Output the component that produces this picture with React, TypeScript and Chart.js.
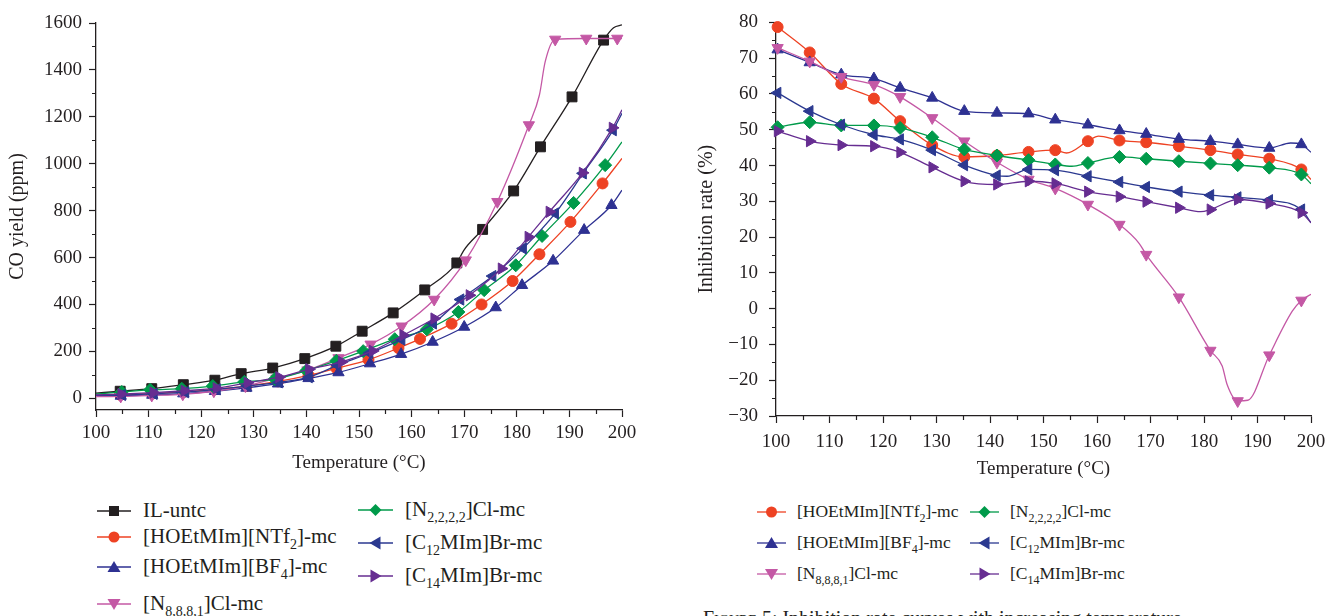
import React, { useEffect, useRef } from "react";
import { Chart, registerables } from "chart.js";

Chart.register(...registerables);

const FONT = "'Liberation Serif', 'Times New Roman', serif";
const INK = "#231f20";

// ---- tick labels ----
const TEMP_TICKS = [100, 110, 120, 130, 140, 150, 160, 170, 180, 190, 200];
const CO_TICKS = [0, 200, 400, 600, 800, 1000, 1200, 1400, 1600];
const INH_TICKS = [-30, -20, -10, 0, 10, 20, 30, 40, 50, 60, 70, 80];

// ---- series names ----
const NAME_UNTC = "IL-untc";
const NAME_NTF2 = "[HOEtMIm][NTf_{2}]-mc";
const NAME_BF4 = "[HOEtMIm][BF_{4}]-mc";
const NAME_N8881 = "[N_{8,8,8,1}]Cl-mc";
const NAME_N2222 = "[N_{2,2,2,2}]Cl-mc";
const NAME_C12 = "[C_{12}MIm]Br-mc";
const NAME_C14 = "[C_{14}MIm]Br-mc";

// ---- left chart: CO yield (ppm) ----
const coUntcT = [104.6, 110.6, 116.6, 122.6, 127.6, 133.6, 139.7, 145.6, 150.6, 156.5, 162.5, 168.6, 173.5, 179.4, 184.5, 190.5, 196.5];
const coUntcV = [30, 41, 58, 77, 105, 129, 169, 222, 286, 364, 462, 577, 720, 884, 1072, 1285, 1527];
const coUntcKnotT = [100, 169.9, 198.4, 200];
const coUntcKnotV = [22, 630, 1580, 1592];

const coNtf2T = [104.6, 110.6, 116.6, 122.6, 128.6, 134.6, 140.4, 145.7, 151.8, 157.5, 161.6, 167.6, 173.3, 179.2, 184.3, 190.2, 196.3];
const coNtf2V = [15, 20, 27, 38, 52, 72, 98, 128, 164, 214, 253, 318, 400, 500, 614, 752, 916];
const coNtf2KnotT = [100, 200];
const coNtf2KnotV = [12, 1023];

const coBf4T = [104.7, 110.7, 116.6, 122.6, 128.6, 134.6, 140.4, 146.1, 152.1, 158, 164, 170, 176, 181, 186.9, 192.8, 198];
const coBf4V = [10, 14, 20, 30, 44, 62, 85, 110, 148, 188, 240, 304, 387, 482, 586, 717, 823];
const coBf4KnotT = [100, 200];
const coBf4KnotV = [8, 887];

const coN8881T = [104.7, 110.6, 116.5, 122.4, 128.4, 134.3, 140.2, 146.1, 152.2, 158.1, 164.3, 170.3, 176.3, 182.3, 187.3, 193.2, 199.1];
const coN8881V = [8, 12, 17, 30, 52, 85, 120, 172, 230, 307, 421, 589, 838, 1165, 1530, 1534, 1534];
const coN8881KnotT = [100, 184.3, 185.4, 200];
const coN8881KnotV = [7, 1293, 1435, 1534];

const coN2222T = [104.9, 110.3, 116.3, 122.2, 128.2, 134, 140, 145.7, 150.8, 156.8, 162.9, 168.9, 173.8, 179.8, 184.8, 190.8, 196.8];
const coN2222V = [27, 36, 41, 52, 70, 82, 118, 160, 201, 252, 294, 368, 461, 567, 692, 833, 994];
const coN2222KnotT = [100, 200];
const coN2222KnotV = [18, 1093];

const coC12T = [105, 111, 117, 123, 128.8, 134.8, 140.5, 145.9, 152, 158.1, 164.1, 169.3, 175.4, 181.2, 187.3, 192.6, 198.3];
const coC12V = [14, 19, 26, 38, 52, 68, 90, 140, 193, 250, 319, 421, 521, 639, 788, 959, 1143];
const coC12KnotT = [100, 200];
const coC12KnotV = [12, 1215];

const coC14T = [104.8, 110.9, 116.8, 122.9, 128.8, 134.8, 140.5, 146.7, 152.6, 158.4, 164.3, 171, 177.1, 182.2, 186.2, 192.5, 198.2];
const coC14V = [18, 24, 32, 43, 66, 90, 124, 155, 202, 269, 340, 439, 553, 688, 795, 961, 1153];
const coC14KnotT = [100, 200];
const coC14KnotV = [14, 1230];

// ---- right chart: inhibition rate (%) ----
const inhT = [100.3, 106.3, 112.2, 118.3, 123.2, 129.2, 135.2, 141.3, 147.2, 152.2, 158.3, 164.2, 169.2, 175.3, 181.2, 186.3, 192.2, 198.2];

const inhNtf2V = [78.7, 71.6, 62.8, 58.7, 52.4, 45.7, 42.4, 42.8, 43.8, 44.3, 46.8, 47, 46.5, 45.4, 44.3, 43.1, 41.9, 38.9];
const inhNtf2KnotT = [154.3, 160.3, 200];
const inhNtf2KnotV = [43.5, 48.2, 36.1];

const inhBf4V = [72.4, 68.8, 65.4, 64.3, 61.7, 58.9, 55.2, 54.7, 54.5, 52.8, 51.4, 49.8, 48.8, 47.4, 46.8, 45.9, 44.9, 45.9];
const inhBf4KnotT = [196.2, 200];
const inhBf4KnotV = [46.3, 43.7];

const inhN8881V = [72.9, 69.1, 64.8, 62.6, 59.2, 53.3, 46.8, 40.9, 36.1, 33.6, 29.1, 23.5, 15.1, 3.2, -11.7, -25.8, -13, 2.3];
const inhN8881KnotT = [167.9, 183.4, 184.3, 188.2, 196.5, 200];
const inhN8881KnotV = [18.2, -16, -21.1, -25.6, -0.7, 4];

const inhN2222V = [50.7, 52.1, 51.2, 51.2, 50.5, 47.9, 44.5, 42.8, 41.5, 40.3, 40.7, 42.4, 41.9, 41.2, 40.6, 40.1, 39.4, 37.5];
const inhN2222KnotT = [155.3, 200];
const inhN2222KnotV = [39.8, 34.9];

const inhC12V = [60.3, 55.2, 51.4, 48.6, 47.3, 44.3, 40.1, 37.2, 38.9, 38.7, 37, 35.4, 34, 32.7, 31.7, 31.1, 30.3, 27.7];
const inhC12KnotT = [143.2, 200];
const inhC12KnotV = [37, 24];

const inhC14V = [49.6, 46.8, 45.7, 45.4, 43.7, 39.5, 35.6, 34.7, 35.6, 35, 32.7, 31.3, 29.9, 28.2, 27.7, 30.5, 29.4, 26.8];
const inhC14KnotT = [179.4, 200];
const inhC14KnotV = [27.1, 24];

// ---- styles ----
const COLORS = {
  untc: "#231f20",
  ntf2: "#ee4223",
  bf4: "#2e3192",
  n8881: "#c458a5",
  n2222: "#009a4a",
  c12: "#2b3990",
  c14: "#662d91",
};

type Shape = "rect" | "circle" | "up" | "down" | "left" | "right" | "diamond";

interface Series {
  name: string;
  color: string;
  shape: Shape;
  mT: number[];
  mV: number[];
  kT: number[];
  kV: number[];
}

const leftSeries: Series[] = [
  { name: NAME_UNTC, color: COLORS.untc, shape: "rect", mT: coUntcT, mV: coUntcV, kT: coUntcKnotT, kV: coUntcKnotV },
  { name: NAME_NTF2, color: COLORS.ntf2, shape: "circle", mT: coNtf2T, mV: coNtf2V, kT: coNtf2KnotT, kV: coNtf2KnotV },
  { name: NAME_BF4, color: COLORS.bf4, shape: "up", mT: coBf4T, mV: coBf4V, kT: coBf4KnotT, kV: coBf4KnotV },
  { name: NAME_N8881, color: COLORS.n8881, shape: "down", mT: coN8881T, mV: coN8881V, kT: coN8881KnotT, kV: coN8881KnotV },
  { name: NAME_N2222, color: COLORS.n2222, shape: "diamond", mT: coN2222T, mV: coN2222V, kT: coN2222KnotT, kV: coN2222KnotV },
  { name: NAME_C12, color: COLORS.c12, shape: "left", mT: coC12T, mV: coC12V, kT: coC12KnotT, kV: coC12KnotV },
  { name: NAME_C14, color: COLORS.c14, shape: "right", mT: coC14T, mV: coC14V, kT: coC14KnotT, kV: coC14KnotV },
];

const rightSeries: Series[] = [
  { name: NAME_NTF2, color: COLORS.ntf2, shape: "circle", mT: inhT, mV: inhNtf2V, kT: inhNtf2KnotT, kV: inhNtf2KnotV },
  { name: NAME_BF4, color: COLORS.bf4, shape: "up", mT: inhT, mV: inhBf4V, kT: inhBf4KnotT, kV: inhBf4KnotV },
  { name: NAME_N8881, color: COLORS.n8881, shape: "down", mT: inhT, mV: inhN8881V, kT: inhN8881KnotT, kV: inhN8881KnotV },
  { name: NAME_N2222, color: COLORS.n2222, shape: "diamond", mT: inhT, mV: inhN2222V, kT: inhN2222KnotT, kV: inhN2222KnotV },
  { name: NAME_C12, color: COLORS.c12, shape: "left", mT: inhT, mV: inhC12V, kT: inhC12KnotT, kV: inhC12KnotV },
  { name: NAME_C14, color: COLORS.c14, shape: "right", mT: inhT, mV: inhC14V, kT: inhC14KnotT, kV: inhC14KnotV },
];

const SHAPE_STYLE: Record<Shape, { style: string; rotation: number; radius: number }> = {
  rect: { style: "rect", rotation: 0, radius: 7 },
  circle: { style: "circle", rotation: 0, radius: 5.5 },
  up: { style: "triangle", rotation: 0, radius: 6.5 },
  down: { style: "triangle", rotation: 180, radius: 6.5 },
  left: { style: "triangle", rotation: -90, radius: 6.5 },
  right: { style: "triangle", rotation: 90, radius: 6.5 },
  diamond: { style: "rectRot", rotation: 0, radius: 6.5 },
};

function buildDatasets(series: Series[]) {
  const n = series.length;
  const out: any[] = [];
  series.forEach((s, i) => {
    const markers = s.mT.map((t, j) => ({ x: t, y: s.mV[j] }));
    const knots = s.kT.map((t, j) => ({ x: t, y: s.kV[j] }));
    const linePts = markers.concat(knots).sort((a, b) => a.x - b.x);
    const sh = SHAPE_STYLE[s.shape];
    out.push({
      label: s.name,
      data: linePts,
      borderColor: s.color,
      borderWidth: 1.3,
      pointRadius: 0,
      fill: false,
      cubicInterpolationMode: "monotone",
      order: 2 * (n - i) + 1,
    });
    out.push({
      label: s.name + " markers",
      data: markers,
      showLine: false,
      pointStyle: sh.style,
      rotation: sh.rotation,
      pointRadius: sh.radius,
      backgroundColor: s.color,
      borderColor: s.color,
      borderWidth: 1,
      clip: false,
      order: 2 * (n - i),
    });
  });
  return out;
}

function midpoints(arr: number[]) {
  const r: number[] = [];
  for (let i = 0; i < arr.length - 1; i++) r.push((arr[i] + arr[i + 1]) / 2);
  return r;
}

const minorTickPlugin = {
  id: "minorTicks",
  afterDraw(chart: any, _args: any, opts: any) {
    const ctx = chart.ctx;
    const len = opts.len || 4;
    ctx.save();
    ctx.strokeStyle = INK;
    ctx.lineWidth = 1.2;
    const xs = chart.scales.x;
    const ys = chart.scales.y;
    ctx.beginPath();
    (opts.x || []).forEach((v: number) => {
      const px = Math.round(xs.getPixelForValue(v)) + 0.5;
      ctx.moveTo(px, xs.top);
      ctx.lineTo(px, xs.top + len);
    });
    (opts.y || []).forEach((v: number) => {
      const py = Math.round(ys.getPixelForValue(v)) + 0.5;
      ctx.moveTo(ys.right - len, py);
      ctx.lineTo(ys.right, py);
    });
    ctx.stroke();
    ctx.restore();
  },
};

const fmt = (v: number) => (v < 0 ? "\u2212" + Math.abs(v) : String(v));

interface Cfg {
  series: Series[];
  yMin: number;
  yMax: number;
  yTicks: number[];
  yTitle: string;
  yWidth: number;
  yTitlePad: number;
  yLabelPad: number;
  xHeight: number;
  xLabelPad: number;
  padding: { top: number; right: number; bottom: number; left: number };
}

function makeChart(canvas: HTMLCanvasElement, cfg: Cfg) {
  const axisCommon = {
    grid: {
      display: true,
      drawOnChartArea: false,
      drawTicks: true,
      tickLength: 7,
      tickColor: INK,
      tickWidth: 1.2,
      color: INK,
    },
    border: { display: true, color: INK, width: 1.3 },
  };
  return new Chart(canvas, {
    type: "line",
    data: { datasets: buildDatasets(cfg.series) },
    options: {
      animation: false,
      responsive: false,
      maintainAspectRatio: false,
      layout: { padding: cfg.padding },
      plugins: {
        legend: { display: false },
        tooltip: { enabled: false },
        minorTicks: { x: midpoints(TEMP_TICKS), y: midpoints(cfg.yTicks), len: 4 },
      } as any,
      scales: {
        x: {
          type: "linear",
          min: 100,
          max: 200,
          afterBuildTicks: (s: any) => {
            s.ticks = TEMP_TICKS.map((v) => ({ value: v }));
          },
          afterFit: (s: any) => {
            s.height = cfg.xHeight;
          },
          ticks: {
            font: { family: FONT, size: 19 },
            color: INK,
            padding: cfg.xLabelPad,
            maxRotation: 0,
            autoSkip: false,
            callback: (v: any) => fmt(Number(v)),
          },
          title: {
            display: true,
            text: "Temperature (\u00B0C)",
            font: { family: FONT, size: 19 },
            color: INK,
            padding: { top: 0, bottom: 4 },
          },
          ...axisCommon,
        },
        y: {
          type: "linear",
          min: cfg.yMin,
          max: cfg.yMax,
          afterBuildTicks: (s: any) => {
            s.ticks = cfg.yTicks.map((v) => ({ value: v }));
          },
          afterFit: (s: any) => {
            s.width = cfg.yWidth;
          },
          ticks: {
            font: { family: FONT, size: 19 },
            color: INK,
            padding: cfg.yLabelPad,
            autoSkip: false,
            callback: (v: any) => fmt(Number(v)),
          },
          title: {
            display: true,
            text: cfg.yTitle,
            font: { family: FONT, size: 20 },
            color: INK,
            padding: { top: cfg.yTitlePad, bottom: 0 },
          },
          ...axisCommon,
        },
      },
    } as any,
    plugins: [minorTickPlugin as any],
  });
}

const LEFT_CFG: Cfg = {
  series: leftSeries,
  yMin: -50,
  yMax: 1600,
  yTicks: CO_TICKS,
  yTitle: "CO yield (ppm)",
  yWidth: 96,
  yTitlePad: 6,
  yLabelPad: 7,
  xHeight: 68,
  xLabelPad: 5,
  padding: { top: 23, right: 27, bottom: 0, left: 0 },
};

const RIGHT_CFG: Cfg = {
  series: rightSeries,
  yMin: -30,
  yMax: 80,
  yTicks: INH_TICKS,
  yTitle: "Inhibition rate (%)",
  yWidth: 116,
  yTitlePad: 35,
  yLabelPad: 11,
  xHeight: 68,
  xLabelPad: 8,
  padding: { top: 22, right: 30, bottom: 0, left: 0 },
};

// ---- legend ----
function Label({ text, sub }: { text: string; sub: number }) {
  const parts = text.split(/_\{([^}]*)\}/);
  return (
    <span>
      {parts.map((p, i) =>
        i % 2 === 1 ? (
          <span key={i} style={{ fontSize: sub, position: "relative", top: Math.round(sub * 0.42) }}>
            {p}
          </span>
        ) : (
          <span key={i}>{p}</span>
        )
      )}
    </span>
  );
}

function MarkerIcon({ shape, color, w }: { shape: Shape; color: string; w: number }) {
  const c = w / 2;
  let mark: React.ReactNode = null;
  if (shape === "rect") mark = <rect x={c - 5} y={3} width={10} height={10} fill={color} />;
  else if (shape === "circle") mark = <circle cx={c} cy={8} r={5.5} fill={color} />;
  else {
    const pts: Record<string, string> = {
      up: `${c},2 ${c + 6.5},13 ${c - 6.5},13`,
      down: `${c},14 ${c + 6.5},3 ${c - 6.5},3`,
      left: `${c - 6},8 ${c + 5},1.5 ${c + 5},14.5`,
      right: `${c + 6},8 ${c - 5},1.5 ${c - 5},14.5`,
      diamond: `${c},2 ${c + 6},8 ${c},14 ${c - 6},8`,
    };
    mark = <polygon points={pts[shape]} fill={color} />;
  }
  return (
    <svg width={w} height={16} style={{ display: "block" }}>
      <line x1={0} y1={8} x2={w} y2={8} stroke={color} strokeWidth={1.3} />
      {mark}
    </svg>
  );
}

interface LegendPos {
  s: Series;
  x: number;
  tx: number;
  y: number;
  w: number;
  size: number;
}

const leftLegend: LegendPos[] = [
  { s: leftSeries[0], x: 97, tx: 143, y: 511, w: 34, size: 21 },
  { s: leftSeries[1], x: 97, tx: 143, y: 537, w: 34, size: 21 },
  { s: leftSeries[2], x: 97, tx: 143, y: 567, w: 34, size: 21 },
  { s: leftSeries[3], x: 97, tx: 143, y: 604, w: 34, size: 21 },
  { s: leftSeries[4], x: 358, tx: 405, y: 510, w: 35, size: 21 },
  { s: leftSeries[5], x: 358, tx: 405, y: 543, w: 35, size: 21 },
  { s: leftSeries[6], x: 358, tx: 405, y: 576, w: 35, size: 21 },
];

const rightLegend: LegendPos[] = [
  { s: rightSeries[0], x: 757, tx: 797, y: 512, w: 29, size: 17.5 },
  { s: rightSeries[1], x: 757, tx: 797, y: 543, w: 29, size: 17.5 },
  { s: rightSeries[2], x: 757, tx: 797, y: 574, w: 29, size: 17.5 },
  { s: rightSeries[3], x: 970, tx: 1010, y: 512, w: 29, size: 17.5 },
  { s: rightSeries[4], x: 970, tx: 1010, y: 543, w: 29, size: 17.5 },
  { s: rightSeries[5], x: 970, tx: 1010, y: 574, w: 29, size: 17.5 },
];

function LegendItem({ p }: { p: LegendPos }) {
  return (
    <>
      <div style={{ position: "absolute", left: p.x, top: p.y - 8 }}>
        <MarkerIcon shape={p.s.shape} color={p.s.color} w={p.w} />
      </div>
      <div
        style={{
          position: "absolute",
          left: p.tx,
          top: p.y - 13,
          height: 24,
          lineHeight: "24px",
          fontSize: p.size,
          whiteSpace: "nowrap",
        }}
      >
        <Label text={p.s.name} sub={Math.round(p.size * 0.68)} />
      </div>
    </>
  );
}

export default function App() {
  const leftRef = useRef<HTMLCanvasElement>(null);
  const rightRef = useRef<HTMLCanvasElement>(null);

  useEffect(() => {
    const a = makeChart(leftRef.current as HTMLCanvasElement, LEFT_CFG);
    const b = makeChart(rightRef.current as HTMLCanvasElement, RIGHT_CFG);
    return () => {
      a.destroy();
      b.destroy();
    };
  }, []);

  return (
    <div
      style={{
        position: "fixed",
        left: 0,
        top: 0,
        width: 1326,
        height: 616,
        background: "#fff",
        overflow: "hidden",
        fontFamily: FONT,
        color: INK,
      }}
    >
      <canvas ref={leftRef} width={649} height={478} style={{ position: "absolute", left: 0, top: 0 }} />
      <canvas ref={rightRef} width={681} height={484} style={{ position: "absolute", left: 660, top: 0 }} />
      {leftLegend.map((p, i) => (
        <LegendItem key={"l" + i} p={p} />
      ))}
      {rightLegend.map((p, i) => (
        <LegendItem key={"r" + i} p={p} />
      ))}
      <div
        style={{
          position: "absolute",
          left: 703,
          top: 608,
          fontSize: 20,
          lineHeight: "20px",
          whiteSpace: "nowrap",
        }}
      >
        <span style={{ fontVariant: "small-caps" }}>Figure 5:</span> Inhibition rate curves with increasing temperature.
      </div>
    </div>
  );
}
